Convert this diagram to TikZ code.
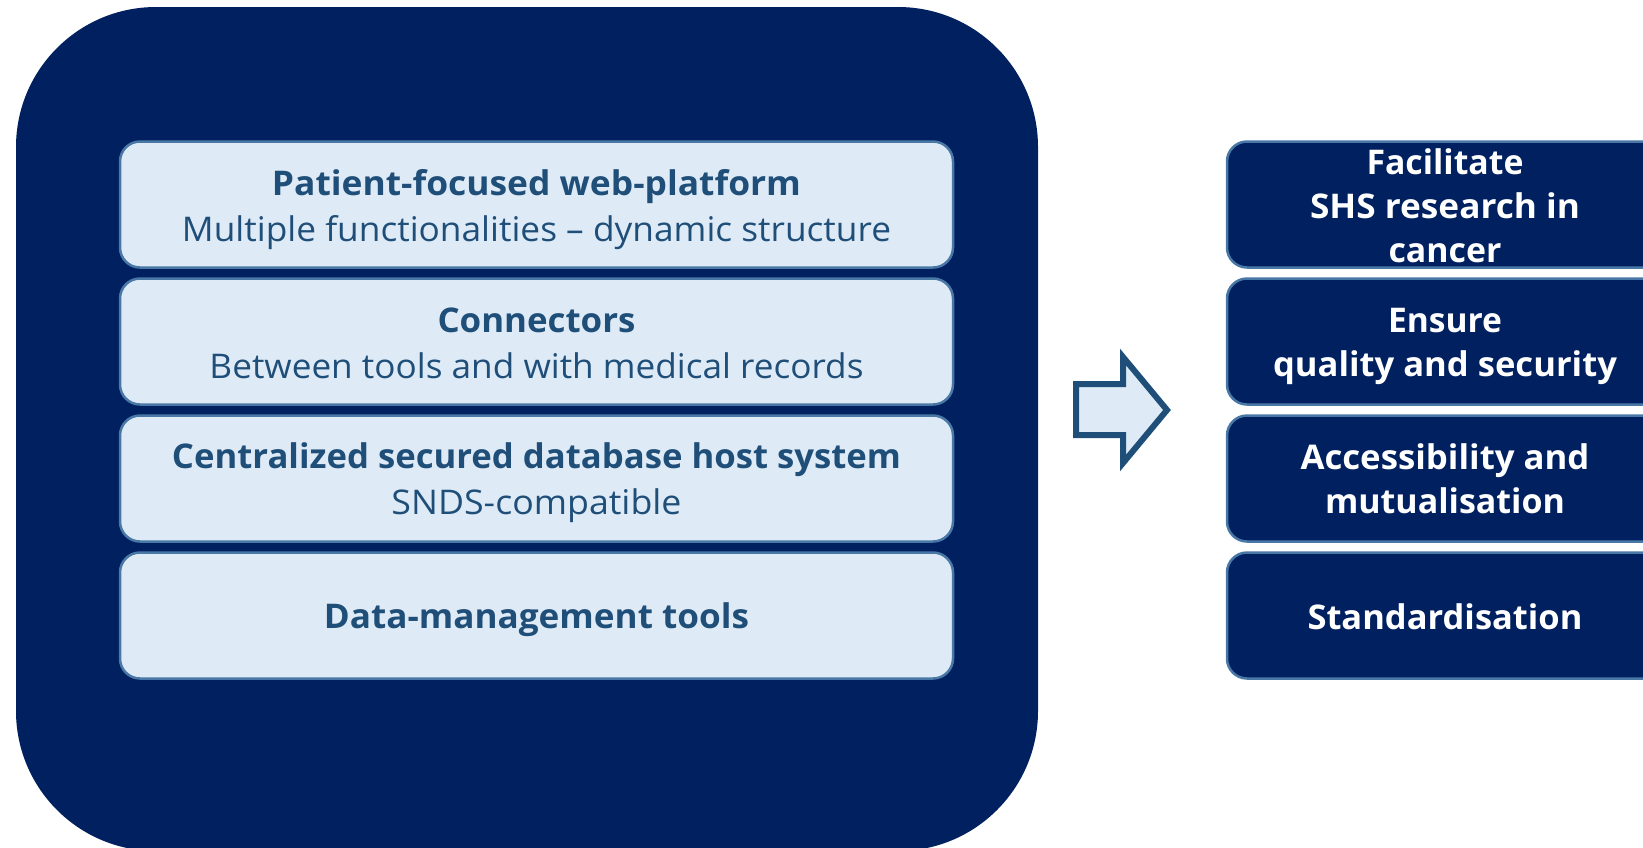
\documentclass[tikz,border=0pt]{standalone}
\usepackage{fontspec}
\setmainfont{Open Sans}
\usepackage{graphicx}

\definecolor{navy}{HTML}{002060}
\definecolor{paleblue}{HTML}{DEEBF7}
\definecolor{edgeblue}{HTML}{4A78A6}
\definecolor{inkblue}{HTML}{1F4E79}

% squeeze a line horizontally to a given width (in pt), keeping its height
\newcommand\fitw[2]{\resizebox{#1pt}{\height}{#2}}

\tikzset{
  panel/.style={fill=navy, rounded corners=140pt},
  layerbox/.style={draw=edgeblue, line width=2.5pt, fill=paleblue,
    rounded corners=20pt, minimum width=833pt, minimum height=126pt,
    inner sep=0pt, align=center, text=inkblue,
    font=\fontsize{34}{44}\selectfont},
  goalbox/.style={draw=edgeblue, line width=2.5pt, fill=navy,
    rounded corners=20pt, minimum width=436pt, minimum height=126pt,
    inner sep=0pt, align=center, text=white,
    font=\fontsize{34}{44}\selectfont\bfseries},
  label/.style={align=center, inner sep=0pt},
  blockarrow/.style={draw=inkblue, line width=6pt, fill=paleblue,
    line join=miter}
}

\begin{document}
\begin{tikzpicture}[x=1pt, y=-1pt]
\useasboundingbox (0,0) rectangle (1643,847);
\clip (0,0) rectangle (1643,847);

% background panel holding the platform layers
\fill[panel] (16,7) rectangle (1038,851);

% platform layers
\node[layerbox] (web) at (536.5,204.5) {};
\node[layerbox] (conn) at (536.5,341.5) {};
\node[layerbox] (db) at (536.5,478.5) {};
\node[layerbox] (dm) at (536.5,615.5) {};
\begin{scope}[every node/.style={label, text=inkblue,
    font=\fontsize{34}{46}\selectfont}]
\node (webtxt) at ([yshift=-5pt]web.center)
  {\fitw{529}{\bfseries Patient-focused web-platform}\\
   \fitw{709}{Multiple functionalities – dynamic structure}};
\node (conntxt) at ([yshift=-2pt]conn.center)
  {\fitw{198}{\bfseries Connectors}\\
   \fitw{654}{Between tools and with medical records}};
\node (dbtxt) at ([yshift=-4pt]db.center)
  {\fitw{729}{\bfseries Centralized secured database host system}\\
   \fitw{290}{SNDS-compatible}};
\node (dmtxt) at ([yshift=-4pt]dm.center)
  {\fitw{425}{\bfseries Data-management tools}};
\end{scope}

% block arrow towards the goals
\draw[blockarrow] (1076,384) -- (1123,384) -- (1123,357) -- (1167,410)
  -- (1123,463) -- (1123,435) -- (1076,435) -- cycle;

% goals
\node[goalbox] (g1) at (1445,204.5) {};
\node[goalbox] (g2) at (1445,341.5) {};
\node[goalbox] (g3) at (1445,478.5) {};
\node[goalbox] (g4) at (1445,615.5) {};
\begin{scope}[every node/.style={label, text=white,
    font=\fontsize{34}{44}\selectfont\bfseries}]
\node (g1txt) at ([yshift=-1pt]g1.center)
  {\fitw{157}{Facilitate}\\\fitw{270}{SHS research in}\\\fitw{113}{cancer}};
\node (g2txt) at ([yshift=-5pt]g2.center)
  {\fitw{114}{Ensure}\\\fitw{344}{quality and security}};
\node (g3txt) at (g3.center)
  {\fitw{289}{Accessibility and}\\\fitw{240}{mutualisation}};
\node (g4txt) at ([yshift=-1pt]g4.center)
  {\fitw{275}{Standardisation}};
\end{scope}
\end{tikzpicture}
\end{document}
